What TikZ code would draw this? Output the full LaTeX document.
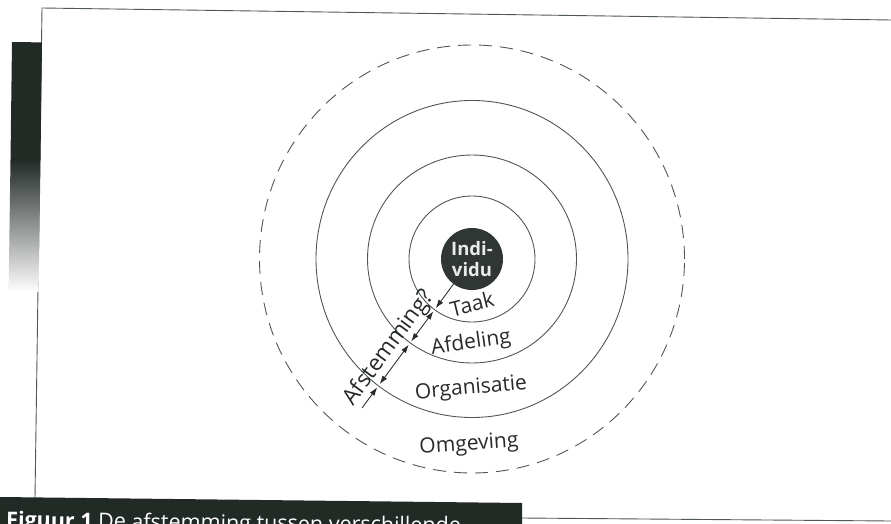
\documentclass[tikz,border=0pt]{standalone}
\usepackage{fontspec}
\setmainfont{Open Sans}
\usetikzlibrary{calc,arrows.meta}
\definecolor{ink}{RGB}{38,42,40}
\definecolor{rule}{RGB}{78,88,84}
\definecolor{slab}{RGB}{34,42,38}
\definecolor{core}{RGB}{48,54,51}

\begin{document}
\begin{tikzpicture}[x=1pt,y=-1pt,
  ring/.style={draw=rule, line width=0.9pt},
  outer/.style={ring, dash pattern=on 13pt off 8pt},
  lbl/.style={text=ink, font=\fontsize{21}{24}\selectfont, inner sep=0pt},
  link/.style={draw=ink, line width=0.85pt, shorten <=2pt, shorten >=2pt},
  tipend/.tip={Latex[length=8.5pt,width=5.6pt]}
]
\useasboundingbox (0,0) rectangle (891,524);
\clip (0,0) rectangle (891,524);

% page frame
\coordinate (tl) at (42,8);
\coordinate (tr) at (891,20);
\coordinate (bl) at (35,498);
\coordinate (br0) at (522,518);
\coordinate (br1) at (891,521);
\draw[rule, line width=0.9pt] (tr) -- (tl) -- (bl);
\draw[rule, line width=0.9pt] (br0) -- (br1);

% shaded side band
\fill[slab] (12,42) -- (42,42.4) -- (40.5,160) -- (10.5,160) -- cycle;
\shade[top color=slab, bottom color=white] (10.5,159.5) -- (40.5,159.5) -- (38.6,292) -- (8.6,292) -- cycle;

% caption bar
\fill[slab] (0,497) -- (522,503) -- (522,530) -- (0,530) -- cycle;
\node[anchor=base west, inner sep=0pt, text=white, rotate=-0.7,
      font=\fontsize{21.5}{24}\selectfont] (cap) at (6,527.5)
  {\textbf{Figuur 1} De afstemming tussen verschillende};

% core
\node[circle, fill=core, minimum size=62pt, inner sep=0pt, text=white!92!black,
      font=\bfseries\fontsize{18.5}{21}\selectfont, align=center] (ind) at (472,259)
  {Indi-\\vidu};

% rings
\draw[ring]  (ind.center) circle[radius=63pt];
\draw[ring]  (ind.center) ellipse[x radius=104.5pt, y radius=104pt];
\draw[ring]  (ind.center) ellipse[x radius=156pt, y radius=158.5pt];
\draw[outer] (ind.center) ellipse[x radius=212.5pt, y radius=214pt];

% radial connector
\coordinate (e)  at (362,408);
\coordinate (k1) at ($(ind.center)!63pt!(e)$);
\coordinate (k2) at ($(ind.center)!104.5pt!(e)$);
\coordinate (k3) at ($(ind.center)!157.5pt!(e)$);
\coordinate (am) at ($(ind.center)!121pt!(e)$);

\draw[link, shorten <=0pt, -{tipend}] (ind) -- (k1);
\draw[link, {tipend}-{tipend}] (k1) -- (k2);
\draw[link, {tipend}-{tipend}] (k2) -- (k3);
\draw[link, shorten >=0pt, {tipend}-] (k3) -- (e);

% labels
\node[lbl, rotate=14] (taak) at (472,304) {Taak};
\node[lbl, rotate=8]  (afd)  at (471,343) {Afdeling};
\node[lbl, rotate=5]  (org)  at (471,389) {Organisatie};
\node[lbl, rotate=4]  (omg)  at (469,445) {Omgeving};
\node[lbl, font=\fontsize{22.5}{26}\selectfont, rotate=53.6, anchor=base] (afst)
  at ($(am)!8pt!-90:(e)$) {Afstemming?};
\end{tikzpicture}
\end{document}
